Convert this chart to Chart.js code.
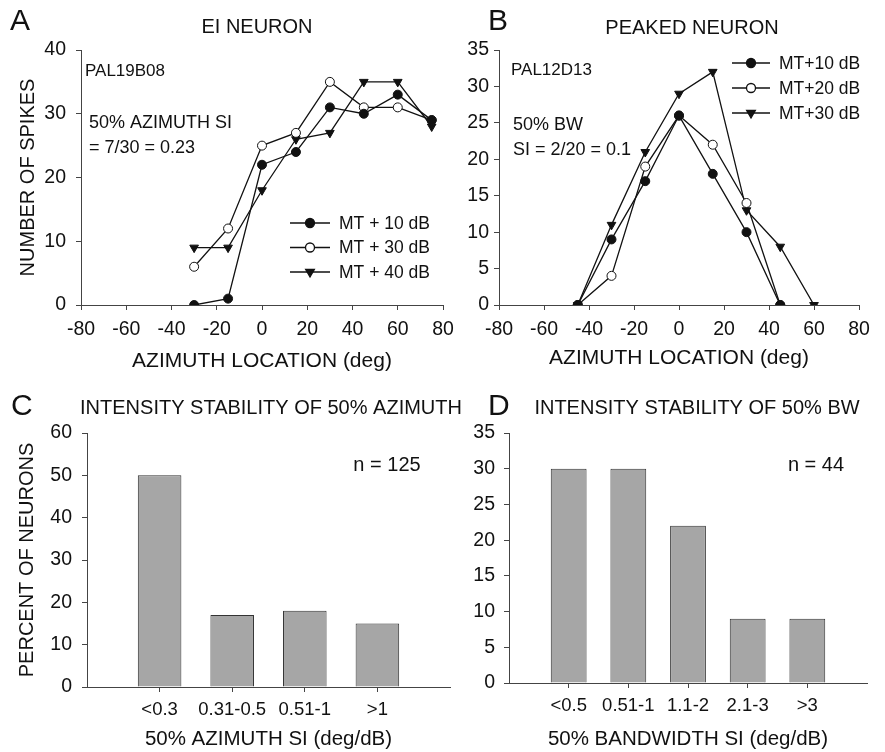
<!DOCTYPE html>
<html>
<head>
<meta charset="utf-8">
<script src="https://cdn.jsdelivr.net/npm/chart.js@4.4.1/dist/chart.umd.min.js"></script>
<style>
    body { margin: 0; background: #fff; }
    #wrap { position: relative; width: 885px; height: 752px; overflow: hidden; }
    canvas { position: absolute; }
</style>
</head>
<body>
<div id="wrap">
    <canvas id="panelA" width="470" height="378" style="left:0;top:0"></canvas>
    <canvas id="panelB" width="445" height="378" style="left:440px;top:0"></canvas>
    <canvas id="panelC" width="480" height="374" style="left:0;top:378px"></canvas>
    <canvas id="panelD" width="445" height="374" style="left:440px;top:378px"></canvas>
</div>
<script>
// A: EI neuron
const eiAzimuth = [-30, -15, 0, 15, 30, 45, 60, 75];
const eiMT10 = [0, 1, 22, 24, 31, 30, 33, 29];
const eiMT30 = [6, 12, 25, 27, 35, 31, 31, 29];
const eiMT40 = [9, 9, 18, 26, 27, 35, 35, 28];

// B: peaked neuron
const peakAzimuth = [-45, -30, -15, 0, 15, 30, 45];
const peakMT10 = [0, 9, 17, 26, 18, 10, 0];
const peakMT20 = [0, 4, 19, 26, 22, 14, 0];
const peakAzimuth30 = [-45, -30, -15, 0, 15, 30, 45, 60];
const peakMT30 = [0, 11, 21, 29, 32, 13, 8, 0];

// C, D: histograms
const azimuthBins = ['<0.3', '0.31-0.5', '0.51-1', '>1'];
const azimuthPct = [50, 17, 18, 15];
const bwBins = ['<0.5', '0.51-1', '1.1-2', '2.1-3', '>3'];
const bwPct = [30, 30, 22, 9, 9];

const FONT = "'Liberation Sans', Arial, sans-serif";
const AXIS = '#444';
Chart.defaults.font.family = FONT;
Chart.defaults.color = '#111';
Chart.defaults.animation = false;

// draws panel letter, title, notes and a line+marker legend
const decor = {
    id: 'decor',
    afterDraw(chart, args, opts) {
        const ctx = chart.ctx;
        const area = chart.chartArea;
        ctx.save();
        ctx.fillStyle = '#111';
        ctx.textBaseline = 'middle';

        ctx.font = '30px ' + FONT;
        ctx.textAlign = 'left';
        ctx.fillText(opts.letter.text, opts.letter.x, opts.letter.y);

        ctx.font = '20px ' + FONT;
        ctx.textAlign = 'center';
        ctx.fillText(opts.title.text, opts.title.x, opts.title.y);

        (opts.notes || []).forEach(n => {
            ctx.font = n.size + 'px ' + FONT;
            ctx.textAlign = n.align || 'left';
            ctx.fillText(n.text, area.left + n.x, area.top + n.y);
        });

        if (opts.legend) {
            const lg = opts.legend;
            chart.data.datasets.forEach((ds, i) => {
                const y = area.top + lg.y + i * lg.gap;
                const x0 = area.left + lg.x;
                ctx.strokeStyle = ds.borderColor;
                ctx.lineWidth = ds.borderWidth;
                ctx.beginPath();
                ctx.moveTo(x0, y);
                ctx.lineTo(x0 + lg.len, y);
                ctx.stroke();
                ctx.fillStyle = ds.pointBackgroundColor;
                ctx.strokeStyle = ds.pointBorderColor;
                Chart.helpers.drawPoint(ctx, {
                    pointStyle: ds.pointStyle,
                    rotation: ds.pointRotation || 0,
                    radius: ds.pointRadius,
                    borderWidth: 1
                }, x0 + lg.len / 2, y);
                ctx.fillStyle = '#111';
                ctx.font = '17.5px ' + FONT;
                ctx.textAlign = 'left';
                ctx.fillText(ds.label, x0 + lg.len + 9, y + 1);
            });
        }
        ctx.restore();
    }
};

function series(label, xs, ys, style, fill) {
    return {
        label: label,
        data: xs.map((x, i) => ({ x: x, y: ys[i] })),
        borderColor: '#111',
        borderWidth: 1.3,
        pointStyle: style,
        pointRotation: style === 'triangle' ? 180 : 0,
        pointRadius: style === 'triangle' ? 5 : 4.5,
        pointBackgroundColor: fill,
        pointBorderColor: '#111',
        pointBorderWidth: 1,
        tension: 0
    };
}

function axisY({ max, step, width, pad, title, titlePad }) {
    return {
        type: 'linear', min: 0, max: max,
        border: { display: true, color: AXIS, width: 1 },
        grid: { drawOnChartArea: false, drawTicks: true, tickLength: 5, tickColor: AXIS },
        ticks: { stepSize: step, padding: pad, font: { size: 19.5 }, color: '#111' },
        title: { display: !!title, text: title, font: { size: 20 }, color: '#111', padding: { top: titlePad, bottom: 0 } },
        afterFit: s => { s.width = width; }
    };
}

function makeLinePanel({ id, datasets, yMax, yStep, yWidth, yPad, yTitle, padding, decorOpts }) {
    return new Chart(document.getElementById(id), {
        type: 'line',
        data: { datasets: datasets },
        options: {
            responsive: false,
            layout: { padding: padding },
            plugins: { legend: { display: false }, tooltip: { enabled: false }, decor: decorOpts },
            scales: {
                x: {
                    type: 'linear', min: -80, max: 80,
                    border: { display: true, color: AXIS, width: 1 },
                    grid: { drawOnChartArea: false, drawTicks: true, tickLength: 5, tickColor: AXIS },
                    ticks: { stepSize: 20, padding: 8, font: { size: 19.5 }, color: '#111', maxRotation: 0 },
                    title: { display: true, text: 'AZIMUTH LOCATION (deg)', font: { size: 21 }, color: '#111', padding: { top: 0, bottom: 4 } },
                    afterFit: s => { s.height = 73 - padding.bottom; }
                },
                y: axisY({ max: yMax, step: yStep, width: yWidth, pad: yPad, title: yTitle, titlePad: 16 })
            }
        },
        plugins: [decor]
    });
}

function makeBarPanel({ id, bins, values, yMax, yStep, yWidth, yPad, yTitle, xTitle, xHeight, padding, decorOpts }) {
    return new Chart(document.getElementById(id), {
        type: 'bar',
        data: {
            datasets: [{
                data: bins.map((b, i) => ({ x: i + 1, y: values[i] })),
                backgroundColor: '#a6a6a6',
                borderColor: '#333',
                borderWidth: 1,
                barPercentage: 0.6,
                categoryPercentage: 1
            }]
        },
        options: {
            responsive: false,
            layout: { padding: padding },
            plugins: { legend: { display: false }, tooltip: { enabled: false }, decor: decorOpts },
            scales: {
                x: {
                    type: 'linear', min: 0, max: bins.length + 1, offset: false,
                    afterBuildTicks: s => { s.ticks = bins.map((b, i) => ({ value: i + 1 })); },
                    border: { display: true, color: AXIS, width: 1 },
                    grid: { offset: false, drawOnChartArea: false, drawTicks: true, tickLength: 5, tickColor: AXIS },
                    ticks: { padding: 7, font: { size: 18.5 }, color: '#111', maxRotation: 0, autoSkip: false,
                        callback: v => bins[v - 1] },
                    title: { display: true, text: xTitle, font: { size: 20.5 }, color: '#111', padding: { top: 0, bottom: 0 } },
                    afterFit: s => { s.height = xHeight; }
                },
                y: axisY({ max: yMax, step: yStep, width: yWidth, pad: yPad, title: yTitle, titlePad: 15 })
            }
        },
        plugins: [decor]
    });
}

makeLinePanel({
    id: 'panelA',
    datasets: [
        series('MT + 10 dB', eiAzimuth, eiMT10, 'circle', '#111'),
        series('MT + 30 dB', eiAzimuth, eiMT30, 'circle', '#fff'),
        series('MT + 40 dB', eiAzimuth, eiMT40, 'triangle', '#111')
    ],
    yMax: 40, yStep: 10, yWidth: 81, yPad: 10, yTitle: 'NUMBER OF SPIKES',
    padding: { top: 50, right: 27, bottom: 0, left: 0 },
    decorOpts: {
        letter: { text: 'A', x: 10, y: 22 },
        title: { text: 'EI NEURON', x: 257, y: 27 },
        notes: [
            { text: 'PAL19B08', x: 4, y: 21, size: 17 },
            { text: '50% AZIMUTH SI', x: 8, y: 73, size: 18 },
            { text: '= 7/30 = 0.23', x: 8, y: 98, size: 18 }
        ],
        legend: { x: 209, y: 173, gap: 24.5, len: 40 }
    }
});

makeLinePanel({
    id: 'panelB',
    datasets: [
        series('MT+10 dB', peakAzimuth, peakMT10, 'circle', '#111'),
        series('MT+20 dB', peakAzimuth, peakMT20, 'circle', '#fff'),
        series('MT+30 dB', peakAzimuth30, peakMT30, 'triangle', '#111')
    ],
    yMax: 35, yStep: 5, yWidth: 59, yPad: 5, yTitle: '',
    padding: { top: 50, right: 26, bottom: 3, left: 0 },
    decorOpts: {
        letter: { text: 'B', x: 48, y: 22 },
        title: { text: 'PEAKED NEURON', x: 252, y: 28 },
        notes: [
            { text: 'PAL12D13', x: 12, y: 20, size: 17 },
            { text: '50% BW', x: 14, y: 75, size: 18 },
            { text: 'SI = 2/20 = 0.1', x: 14, y: 100, size: 18 }
        ],
        legend: { x: 233, y: 13, gap: 25, len: 38 }
    }
});

makeBarPanel({
    id: 'panelC',
    bins: azimuthBins, values: azimuthPct,
    yMax: 60, yStep: 10, yWidth: 87, yPad: 10, yTitle: 'PERCENT OF NEURONS',
    xTitle: '50% AZIMUTH SI (deg/dB)', xHeight: 65,
    padding: { top: 55, right: 30, bottom: 0, left: 0 },
    decorOpts: {
        letter: { text: 'C', x: 11, y: 29 },
        title: { text: 'INTENSITY STABILITY OF 50% AZIMUTH', x: 271, y: 30 },
        notes: [{ text: 'n = 125', x: 300, y: 32, size: 20, align: 'center' }]
    }
});

makeBarPanel({
    id: 'panelD',
    bins: bwBins, values: bwPct,
    yMax: 35, yStep: 5, yWidth: 69, yPad: 9, yTitle: '',
    xTitle: '50% BANDWIDTH SI (deg/dB)', xHeight: 69,
    padding: { top: 55, right: 18, bottom: 0, left: 0 },
    decorOpts: {
        letter: { text: 'D', x: 48, y: 29 },
        title: { text: 'INTENSITY STABILITY OF 50% BW', x: 257, y: 30 },
        notes: [{ text: 'n = 44', x: 307, y: 32, size: 20, align: 'center' }]
    }
});
</script>
</body>
</html>
